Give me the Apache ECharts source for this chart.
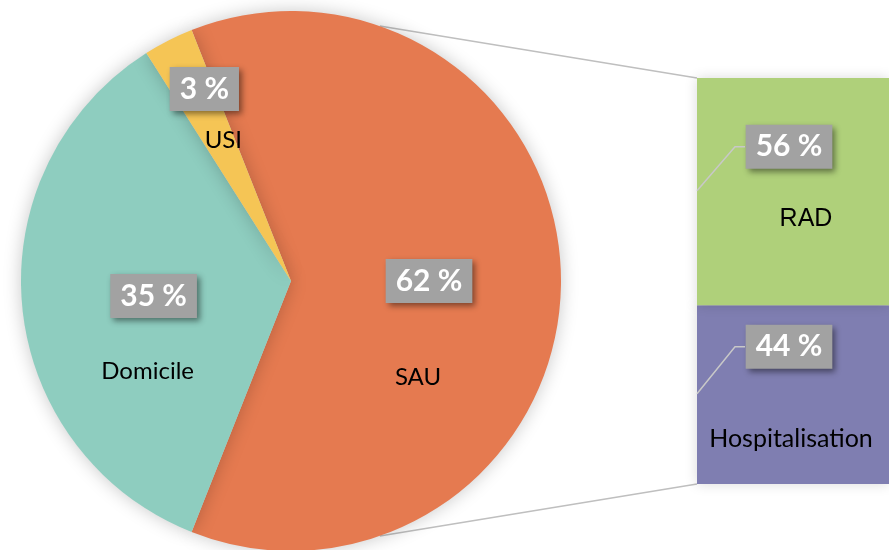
<!DOCTYPE html>
<html>
<head>
<meta charset="utf-8">
<script src="https://cdn.jsdelivr.net/npm/echarts@6/dist/echarts.min.js"></script>
<style>
  html, body { margin: 0; padding: 0; background: #fff; }
  #main { width: 889px; height: 550px; }
</style>
</head>
<body>
<div id="main"></div>
<script>
// données
var pieNames = ['SAU', 'Domicile', 'USI'];
var pieValues = [62, 35, 3];
var pieColors = ['#E57A50', '#8ECDBF', '#F5C555'];
var barNames = ['RAD', 'Hospitalisation'];
var barValues = [56, 44];
var barColors = ['#AFD07A', '#7F7EB1'];

// mise en page
var CX = 291, CY = 281, R = 270;
var GL = 697, GT = 78, GW = 192, GH = 406;
var pctOffsets = [[0, 0], [0, 2], [-24, -69]];
var nameOffsets = [[-11, 96], [-6, 77], [-5, -18]];
var barPctDy = [-45, -48];
var barNameOffsets = [[13, 27], [-2, 44]];

var total = pieValues.reduce(function (a, b) { return a + b; }, 0);
// SAU centré vers la droite (vers la barre)
var startAngle = pieValues[0] / total * 180;

var pctStyle = {
    fontFamily: 'Lato', fontSize: 30, fontWeight: 'bold', color: '#fff',
    backgroundColor: '#A2A2A2', padding: [8, 10, 6, 10],
    shadowColor: 'rgba(0,0,0,0.45)', shadowBlur: 6, shadowOffsetX: 3, shadowOffsetY: 3
};
var nameStyle = { fontFamily: 'Lato', fontSize: 24, color: '#000' };
var barNameStyles = [
    { fontFamily: 'Liberation Sans', fontSize: 25, color: '#000' },
    { fontFamily: 'Lato', fontSize: 25, color: '#000' }
];

function pieData(withColor, offsets) {
    return pieNames.map(function (n, i) {
        return {
            name: n, value: pieValues[i],
            itemStyle: { color: withColor ? pieColors[i] : 'rgba(0,0,0,0)' },
            label: { offset: offsets[i] }
        };
    });
}

var myChart = echarts.init(document.getElementById('main'), null, {renderer: 'canvas'});

var barSeries = [];
// Hospitalisation en bas, RAD en haut
[1, 0].forEach(function (i) {
    barSeries.push({
        type: 'bar', name: barNames[i], stack: 'noms', barWidth: '100%', barGap: '-100%',
        data: [barValues[i]],
        itemStyle: { color: barColors[i], shadowBlur: 12, shadowColor: 'rgba(0,0,0,0.15)' },
        label: Object.assign({ show: true, position: 'inside', offset: barNameOffsets[i],
            formatter: barNames[i] }, barNameStyles[i])
    });
});
[1, 0].forEach(function (i) {
    barSeries.push({
        type: 'bar', name: barNames[i] + ' %', stack: 'pct', barWidth: '100%', barGap: '-100%',
        data: [barValues[i]], silent: true,
        itemStyle: { color: 'rgba(0,0,0,0)' },
        label: Object.assign({ show: true, position: 'inside', offset: [-4, barPctDy[i]],
            formatter: barValues[i] + ' %' }, pctStyle)
    });
});

// lignes de liaison
var graphics = [];
var a = 19.2 * Math.PI / 180;
graphics.push({ type: 'line', z: 0, shape: { x1: CX + R * Math.sin(a), y1: CY - R * Math.cos(a), x2: GL, y2: GT },
    style: { stroke: '#BFBFBF', lineWidth: 1.5 } });
graphics.push({ type: 'line', z: 0, shape: { x1: CX + R * Math.sin(a), y1: CY + R * Math.cos(a), x2: GL, y2: GT + GH },
    style: { stroke: '#BFBFBF', lineWidth: 1.5 } });
var acc = 0;
barValues.forEach(function (v, i) {
    var yc = GT + (acc + v / 2) / 100 * GH;
    acc += v;
    var yb = yc + barPctDy[i];
    graphics.push({ type: 'polyline', z: 100,
        shape: { points: [[GL, yc - 1], [GL + 38, yb], [GL + 48, yb]] },
        style: { stroke: '#C8C8C8', lineWidth: 1.5, fill: null } });
});

var option = {
    backgroundColor: '#fff',
    animation: false,
    grid: { left: GL, top: GT, width: GW, height: GH },
    xAxis: { type: 'category', data: [''], show: false },
    yAxis: { type: 'value', min: 0, max: 100, show: false },
    graphic: graphics,
    series: [{
        type: 'pie', center: [CX, CY], radius: R, startAngle: startAngle, clockwise: true,
        data: pieData(true, pctOffsets),
        itemStyle: { shadowBlur: 18, shadowColor: 'rgba(0,0,0,0.22)' },
        label: Object.assign({ show: true, position: 'inside', formatter: '{c} %' }, pctStyle),
        labelLine: { show: false }
    }, {
        type: 'pie', center: [CX, CY], radius: R, startAngle: startAngle, clockwise: true,
        data: pieData(false, nameOffsets), silent: true,
        label: Object.assign({ show: true, position: 'inside', formatter: '{b}' }, nameStyle),
        labelLine: { show: false }
    }].concat(barSeries)
};
myChart.setOption(option);
</script>
</body>
</html>
